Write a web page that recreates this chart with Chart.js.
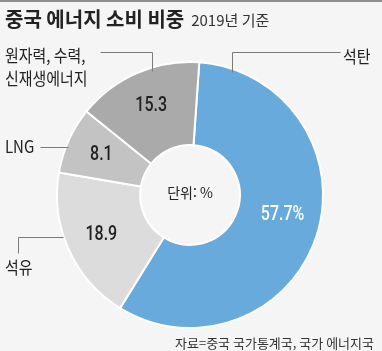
<!DOCTYPE html>
<html lang="ko">
<head>
<meta charset="utf-8">
<script src="https://cdn.jsdelivr.net/npm/chart.js@4.4.1/dist/chart.umd.min.js"></script>
<style>
  html, body { margin: 0; padding: 0; background: #f5f5f5; }
  #wrap { position: relative; width: 382px; height: 351px; }
</style>
</head>
<body>
<div id="wrap"><canvas id="chart" width="382" height="351"></canvas></div>
<script>
// --- Datos ---
const categories = ['석탄', '석유', 'LNG', '원자력, 수력, 신재생에너지'];
const shares = [57.7, 18.9, 8.1, 15.3];
const valueLabels = ['57.7%', '18.9', '8.1', '15.3'];
const sliceColors = ['#68aadc', '#dcdcdc', '#c3c3c3', '#aaaaaa'];
const valueColors = ['#ffffff', '#222222', '#222222', '#222222'];

const titleText = '중국 에너지 소비 비중';
const subtitleText = '2019년 기준';
const unitText = '단위: %';
const sourceText = '자료=중국 국가통계국, 국가 에너지국';

// --- Etiquetas exteriores (texto + línea guía) ---
const outerLabels = [
  { lines: ['석탄'], x: 343, y: 57, path: [[340, 52], [232, 52], [232, 72]] },
  { lines: ['원자력, 수력,', '신재생에너지'], x: 5, y: 56, path: [[100, 52], [152, 52], [152, 71]] },
  { lines: ['LNG'], x: 5, y: 147, path: [[40, 147], [68, 147]] },
  { lines: ['석유'], x: 5, y: 268, path: [[18, 253], [18, 237], [63, 237]] }
];
// pequeño ajuste vertical del valor de cada porción
const valueNudgeY = [-10, 0, 0, 0];

const KR = '"Noto Sans CJK KR", "Noto Sans", sans-serif';
const NUM = '"Roboto", sans-serif';

// texto condensado horizontalmente
function narrowText(ctx, text, x, y, sx) {
  ctx.save();
  ctx.translate(x, y);
  ctx.scale(sx, 1);
  ctx.fillText(text, 0, 0);
  ctx.restore();
}

const annotations = {
  id: 'annotations',
  beforeDraw(chart) {
    const ctx = chart.ctx;
    ctx.save();
    ctx.fillStyle = '#8e8e8e';
    ctx.fillRect(0, 0, chart.width, 2);
    ctx.restore();
  },
  afterDraw(chart) {
    const ctx = chart.ctx;
    ctx.save();

    // título
    ctx.textBaseline = 'middle';
    ctx.fillStyle = '#222';
    ctx.font = 'bold 20px ' + KR;
    ctx.textAlign = 'left';
    ctx.fillText(titleText, 5, 19);
    const tw = ctx.measureText(titleText).width;
    ctx.font = '15px ' + KR;
    ctx.fillStyle = '#333';
    ctx.fillText(subtitleText, 5 + tw + 7, 20);

    // líneas guía
    ctx.strokeStyle = '#7a7a7a';
    ctx.lineWidth = 1;
    outerLabels.forEach(l => {
      ctx.beginPath();
      l.path.forEach((p, i) => {
        if (i === 0) ctx.moveTo(p[0] + 0.5, p[1] + 0.5);
        else ctx.lineTo(p[0] + 0.5, p[1] + 0.5);
      });
      ctx.stroke();
    });

    // textos exteriores
    ctx.font = '17px ' + KR;
    ctx.fillStyle = '#222';
    ctx.textAlign = 'left';
    outerLabels.forEach(l => {
      l.lines.forEach((t, i) => narrowText(ctx, t, l.x, l.y + i * 23, 0.88));
    });

    // valores dentro de cada porción
    const meta = chart.getDatasetMeta(0);
    ctx.textAlign = 'center';
    ctx.font = '500 20px ' + NUM;
    meta.data.forEach((arc, i) => {
      const p = arc.getProps(['x', 'y', 'startAngle', 'endAngle', 'innerRadius', 'outerRadius'], true);
      const mid = (p.startAngle + p.endAngle) / 2;
      const r = p.innerRadius + (p.outerRadius - p.innerRadius) * 0.57;
      ctx.fillStyle = valueColors[i];
      narrowText(ctx, valueLabels[i], p.x + Math.cos(mid) * r, p.y + Math.sin(mid) * r + valueNudgeY[i], 0.8);
    });

    // unidad en el centro
    const c = meta.data[0];
    ctx.font = '14px ' + KR;
    ctx.fillStyle = '#222';
    ctx.fillText(unitText, c.x, c.y - 2);

    // fuente
    ctx.textAlign = 'right';
    ctx.font = '13px ' + KR;
    ctx.fillStyle = '#333';
    ctx.fillText(sourceText, 374, 343);

    ctx.restore();
  }
};

new Chart(document.getElementById('chart'), {
  type: 'doughnut',
  data: {
    labels: categories,
    datasets: [{
      data: shares,
      backgroundColor: sliceColors,
      borderColor: '#ffffff',
      borderWidth: 2,
      hoverOffset: 0
    }]
  },
  options: {
    responsive: false,
    animation: false,
    rotation: 4,
    cutout: '37.5%',
    layout: { padding: { left: 56, right: 58, top: 61, bottom: 22 } },
    plugins: {
      legend: { display: false },
      tooltip: { enabled: false }
    }
  },
  plugins: [annotations]
});
</script>
</body>
</html>
